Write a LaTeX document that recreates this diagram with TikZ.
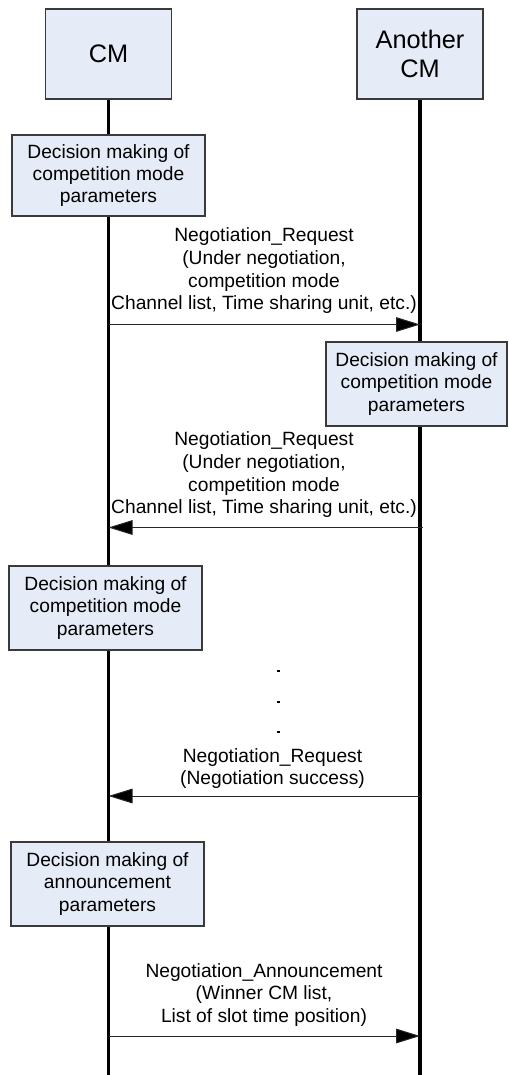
\documentclass[tikz,border=0pt]{standalone}
\usepackage{fontspec}
\setmainfont{Liberation Sans}
\usetikzlibrary{arrows.meta}
\definecolor{boxfill}{HTML}{E6ECF7}
\definecolor{boxline}{HTML}{3A3A3A}
\tikzset{
  head/.style={draw=boxline, line width=0.8pt, fill=boxfill, minimum width=94.5pt, minimum height=67.5pt, align=center, inner sep=0pt, font=\fontsize{19}{21.8}\selectfont},
  decbox/.style={draw=boxline, line width=0.8pt, fill=boxfill, minimum width=144.75pt, minimum height=63pt, align=center, inner sep=0pt, font=\fontsize{14.4}{16.8}\selectfont},
  life/.style={line width=2.3pt, black},
  msg/.style={line width=0.75pt, draw=black!85, -{Triangle[length=18pt, width=11pt, fill=black]}},
  lbl/.style={align=center, inner sep=0pt, font=\fontsize{14.4}{17}\selectfont},
  dotmark/.style={fill=black, inner sep=0pt, minimum width=2.2pt, minimum height=1.6pt}
}
\begin{document}
\begin{tikzpicture}[x=0.75pt, y=-0.75pt]
\useasboundingbox (0,0) rectangle (508,1075);
% lifeline heads
\node[head] (cm) at (108.5,54) {CM};
\node[head] (ac) at (420,54) {Another\\CM};
\coordinate (cmEnd) at (108.5,1075);
\coordinate (acEnd) at (420,1075);
\draw[life] (cm.south) -- (cmEnd);
\draw[life] (ac.south) -- (acEnd);
% decision boxes
\node[decbox, minimum height=60.75pt] (d1) at (108.5,175.5) {Decision making of\\competition mode\\parameters};
\node[decbox, minimum width=135.75pt] (d2) at (416.5,384) {Decision making of\\competition mode\\parameters};
\node[decbox] (d3) at (105.5,608) {Decision making of\\competition mode\\parameters};
\node[decbox] (d4) at (107.5,884) {Decision making of\\announcement\\parameters};
% message 1
\coordinate (m1a) at (108.5,324.5);
\coordinate (m1b) at (420,324.5);
\draw[msg] (m1a) -- (m1b);
\node[lbl] (t1) at (264,271) {Negotiation\_Request\\(Under negotiation,\\competition mode\\Channel list, Time sharing unit, etc.)};
% message 2
\coordinate (m2a) at (422.5,527.5);
\coordinate (m2b) at (108.5,527.5);
\draw[msg] (m2a) -- (m2b);
\node[lbl] (t2) at (264,475) {Negotiation\_Request\\(Under negotiation,\\competition mode\\Channel list, Time sharing unit, etc.)};
% dots
\node[dotmark] (p1) at (278.5,671) {};
\node[dotmark] (p2) at (278.5,702) {};
\node[dotmark] (p3) at (278.5,732) {};
% message 3
\coordinate (m3a) at (420,796);
\coordinate (m3b) at (108.5,796);
\draw[msg] (m3a) -- (m3b);
\node[lbl] (t3) at (272.5,768.5) {Negotiation\_Request\\(Negotiation success)};
% message 4
\coordinate (m4a) at (108.5,1036);
\coordinate (m4b) at (420,1036);
\draw[msg] (m4a) -- (m4b);
\node[lbl] (t4) at (264,995) {Negotiation\_Announcement\\(Winner CM list,\\List of slot time position)};
\end{tikzpicture}
\end{document}
